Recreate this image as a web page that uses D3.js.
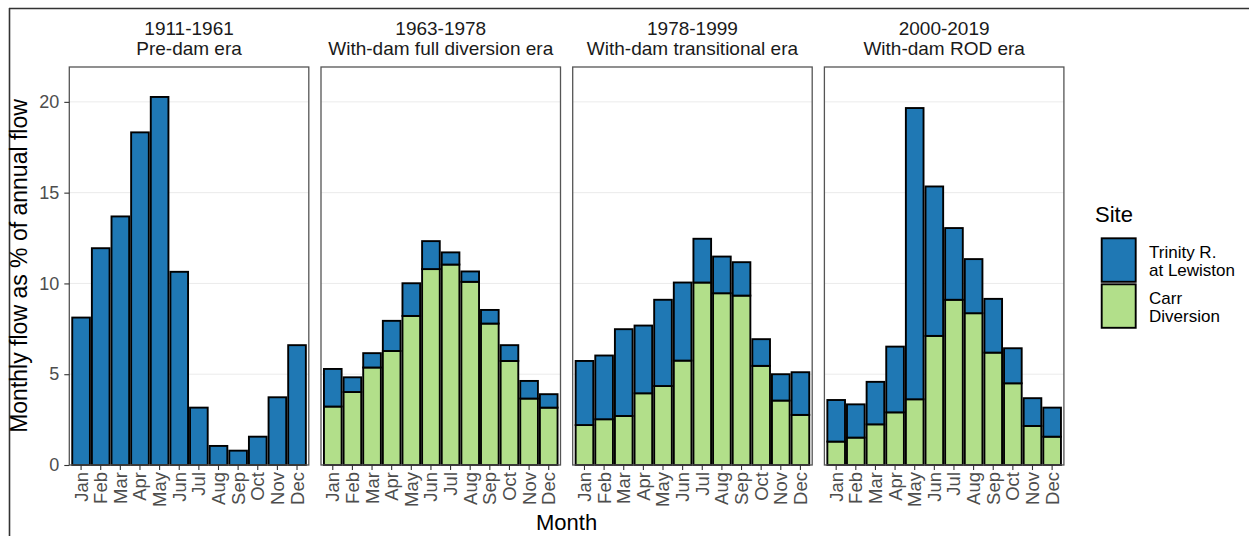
<!DOCTYPE html>
<html>
<head>
<meta charset="utf-8">
<script src="https://cdn.jsdelivr.net/npm/d3@7"></script>
<style>
  html, body { margin: 0; padding: 0; background: #fff; }
  svg { display: block; font-family: "Liberation Sans", Arial, sans-serif; }
</style>
</head>
<body>
<svg id="chart" width="1249" height="536"></svg>
<script>
// Months shown on every panel
const months = ["Jan","Feb","Mar","Apr","May","Jun","Jul","Aug","Sep","Oct","Nov","Dec"];

// Facet strips: period and era name
const eraYears = ["1911-1961", "1963-1978", "1978-1999", "2000-2019"];
const eraNames = ["Pre-dam era", "With-dam full diversion era", "With-dam transitional era", "With-dam ROD era"];

// Carr Diversion share of annual flow (%), per month
const carrPreDam       = [0, 0, 0, 0, 0, 0, 0, 0, 0, 0, 0, 0];
const carrFullDiv      = [3.22, 4.02, 5.37, 6.28, 8.21, 10.79, 11.04, 10.09, 7.79, 5.73, 3.66, 3.16];
const carrTransitional = [2.20, 2.52, 2.70, 3.95, 4.35, 5.75, 10.05, 9.46, 9.33, 5.46, 3.55, 2.76];
const carrROD          = [1.29, 1.51, 2.24, 2.90, 3.62, 7.11, 9.10, 8.36, 6.19, 4.50, 2.15, 1.56];

// Trinity R. at Lewiston share of annual flow (%), per month
const trinityPreDam       = [8.12, 11.94, 13.69, 18.32, 20.27, 10.64, 3.16, 1.05, 0.79, 1.56, 3.73, 6.60];
const trinityFullDiv      = [2.07, 0.81, 0.79, 1.66, 1.80, 1.54, 0.67, 0.57, 0.75, 0.87, 0.97, 0.74];
const trinityTransitional = [3.53, 3.51, 4.78, 3.73, 4.75, 4.30, 2.41, 2.02, 1.84, 1.47, 1.45, 2.35];
const trinityROD          = [2.29, 1.83, 2.34, 3.62, 16.04, 8.23, 3.95, 2.98, 2.96, 1.93, 1.53, 1.60];

const yTicks = [0, 5, 10, 15, 20];
const siteLabels = [["Trinity R.", "at Lewiston"], ["Carr", "Diversion"]];

const carrByEra = [carrPreDam, carrFullDiv, carrTransitional, carrROD];
const trinityByEra = [trinityPreDam, trinityFullDiv, trinityTransitional, trinityROD];

const colTrinity = "#1f78b4";
const colCarr = "#b2df8a";

const svg = d3.select("#chart");

// Outer frame
svg.append("line").attr("x1", 9).attr("x2", 1249).attr("y1", 8.5).attr("y2", 8.5)
  .attr("stroke", "#333").attr("stroke-width", 1.6);
svg.append("line").attr("x1", 9.5).attr("x2", 9.5).attr("y1", 8).attr("y2", 536)
  .attr("stroke", "#333").attr("stroke-width", 1.6);

// Panel layout
const panelTop = 67, panelBottom = 465;
const panelW = 239.5, panelStep = 251.7, firstLeft = 69.3;

const y = d3.scaleLinear().domain([0, 21.92]).range([panelBottom, panelTop]);

eraYears.forEach((yr, i) => {
  const left = firstLeft + i * panelStep;
  const x = d3.scaleBand().domain(months).range([left, left + panelW])
    .paddingInner(0.1).paddingOuter(0.15);
  const g = svg.append("g");

  // grid
  g.selectAll("line.grid").data(yTicks).join("line")
    .attr("x1", left).attr("x2", left + panelW)
    .attr("y1", d => y(d)).attr("y2", d => y(d))
    .attr("stroke", "#ebebeb").attr("stroke-width", 1);

  // stacked bars: Carr at the bottom, Trinity on top
  const rows = months.map((m, k) => ({ m, carr: carrByEra[i][k], trin: trinityByEra[i][k] }));
  const stack = d3.stack().keys(["carr", "trin"])(rows);
  const colors = { carr: colCarr, trin: colTrinity };
  stack.forEach(layer => {
    g.selectAll(null).data(layer.filter(d => d[1] - d[0] > 0)).join("rect")
      .attr("x", d => x(d.data.m))
      .attr("width", x.bandwidth())
      .attr("y", d => y(d[1]))
      .attr("height", d => y(d[0]) - y(d[1]))
      .attr("fill", colors[layer.key])
      .attr("stroke", "#000").attr("stroke-width", 1.9);
  });

  // panel border
  g.append("rect").attr("x", left).attr("y", panelTop)
    .attr("width", panelW).attr("height", panelBottom - panelTop)
    .attr("fill", "none").attr("stroke", "#555").attr("stroke-width", 1.3);

  // x axis
  const xa = svg.append("g").attr("transform", `translate(0,${panelBottom})`)
    .call(d3.axisBottom(x).tickSize(5).tickPadding(0));
  xa.select(".domain").remove();
  xa.selectAll(".tick line").attr("stroke", "#333").attr("stroke-width", 1.1);
  xa.selectAll(".tick text")
    .attr("transform", "rotate(-90)")
    .attr("x", -7).attr("y", 0).attr("dy", "0.35em")
    .attr("text-anchor", "end")
    .attr("fill", "#4d4d4d").attr("font-size", 18.5)
    .attr("font-family", "Liberation Sans, Arial, sans-serif");

  // strip titles
  const cx = left + panelW / 2;
  svg.append("text").attr("x", cx).attr("y", 35).attr("text-anchor", "middle")
    .attr("font-size", 19).attr("fill", "#1a1a1a").text(yr);
  svg.append("text").attr("x", cx).attr("y", 55).attr("text-anchor", "middle")
    .attr("font-size", 19).attr("fill", "#1a1a1a").text(eraNames[i]);
});

// y axis on the first panel
const ya = svg.append("g").attr("transform", `translate(${firstLeft},0)`)
  .call(d3.axisLeft(y).tickValues(yTicks).tickSize(5).tickPadding(5));
ya.select(".domain").remove();
ya.selectAll(".tick line").attr("stroke", "#333").attr("stroke-width", 1.1);
ya.selectAll(".tick text").attr("fill", "#4d4d4d").attr("font-size", 18)
  .attr("font-family", "Liberation Sans, Arial, sans-serif");

// axis titles
svg.append("text")
  .attr("transform", `translate(27,${(panelTop + panelBottom) / 2}) rotate(-90)`)
  .attr("text-anchor", "middle").attr("font-size", 23).attr("fill", "#000")
  .text("Monthly flow as % of annual flow");
svg.append("text")
  .attr("x", (firstLeft + firstLeft + 3 * panelStep + panelW) / 2).attr("y", 530)
  .attr("text-anchor", "middle").attr("font-size", 22).attr("fill", "#000")
  .text("Month");

// legend
const lg = svg.append("g");
lg.append("text").attr("x", 1095).attr("y", 222).attr("font-size", 22).attr("fill", "#000").text("Site");
const keyColors = [colTrinity, colCarr];
const keyTop = [238.3, 284.3];
keyColors.forEach((c, k) => {
  lg.append("rect").attr("x", 1101.7).attr("y", keyTop[k]).attr("width", 34).attr("height", 43.5)
    .attr("fill", c).attr("stroke", "#000").attr("stroke-width", 1.9);
  siteLabels[k].forEach((t, j) => {
    lg.append("text").attr("x", 1149).attr("y", keyTop[k] + 19.5 + j * 18.5)
      .attr("font-size", 17).attr("fill", "#000").text(t);
  });
});
</script>
</body>
</html>
